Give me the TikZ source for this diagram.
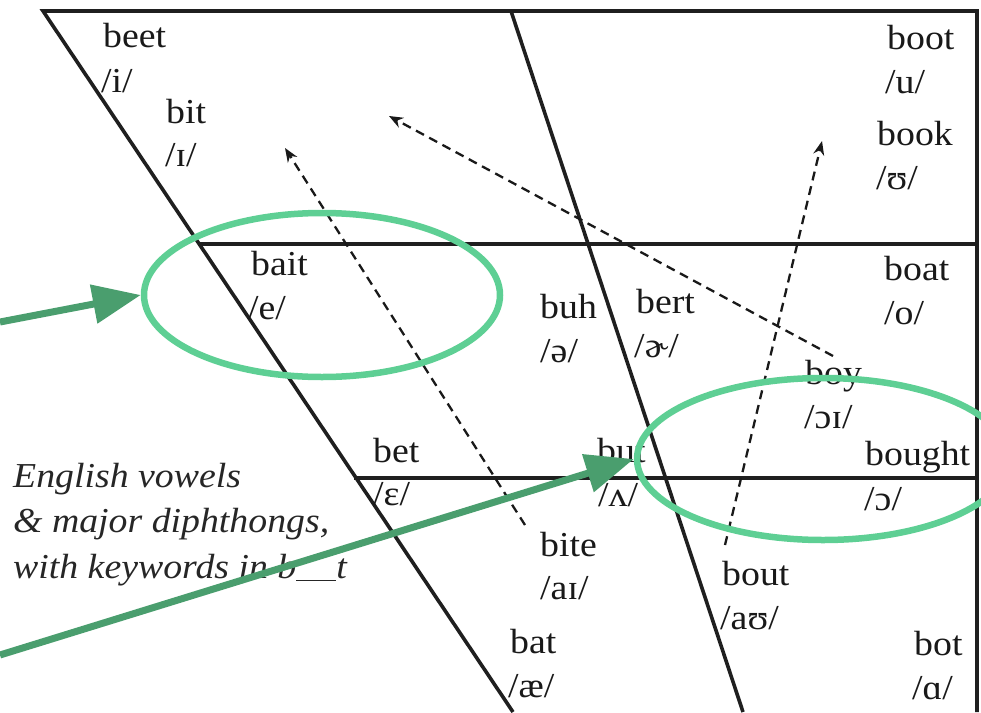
\documentclass[tikz,border=0pt]{standalone}
\usepackage{fontspec}
\setmainfont[FakeStretch=1.08]{Liberation Serif}
\usetikzlibrary{arrows.meta,shapes.geometric}
\definecolor{lgreen}{RGB}{94,207,148}
\definecolor{dgreen}{RGB}{74,158,110}
\begin{document}
\begin{tikzpicture}[x=1pt,y=-1pt,
  lbl/.style={anchor=base west,inner sep=0pt,text=black!90,font=\fontsize{35}{42}\selectfont},
  captext/.style={anchor=base west,inner sep=0pt,text=black!85,font=\fontsize{35}{42}\selectfont\itshape},
  frame/.style={line width=3.6pt,black!88},
  dasharrow/.style={line width=2.3pt,black!90,dash pattern=on 9pt off 6pt,-{Stealth[length=14pt,width=11pt]}},
  ring/.style={ellipse,draw=lgreen,line width=6.5pt,inner sep=0pt},
  garrow/.style={dgreen,line width=7pt,-{Triangle[length=48pt,width=38pt]}}]
\useasboundingbox (0,0) rectangle (981,712);
\clip (0,0) rectangle (981,712);
% frame
\coordinate (tl) at (43,11);
\coordinate (tm) at (511,11);
\coordinate (tr) at (977,11);
\coordinate (bl) at (513,712);
\coordinate (bm) at (743,712);
\coordinate (br) at (977,712);
\coordinate (h1l) at (199,244);
\coordinate (h1r) at (977,244);
\coordinate (h2l) at (354,478);
\coordinate (h2r) at (977,478);
\draw[frame] (bl) -- (tl) -- (tr) -- (br);
\draw[frame] (tm) -- (bm);
\draw[frame] (h1l) -- (h1r);
\draw[frame] (h2l) -- (h2r);
% labels
\node[lbl] (beet) at (103,47) {beet};
\node[lbl] (beetp) at (101,92) {/i/};
\node[lbl] (bit) at (166,123) {bit};
\node[lbl] (bitp) at (165,166) {/ɪ/};
\node[lbl] (boot) at (887,49) {boot};
\node[lbl] (bootp) at (885,93) {/u/};
\node[lbl] (book) at (877,145) {book};
\node[lbl] (bookp) at (876,189) {/ʊ/};
\node[lbl] (bait) at (251,275) {bait};
\node[lbl] (baitp) at (248,319) {/e/};
\node[lbl] (buh) at (540,318) {buh};
\node[lbl] (buhp) at (540,362) {/ə/};
\node[lbl] (bert) at (636,313) {bert};
\node[lbl] (bertp) at (634,357) {/ɚ/};
\node[lbl] (boat) at (884,280) {boat};
\node[lbl] (boatp) at (884,324) {/o/};
\node[lbl] (boy) at (805,384) {boy};
\node[lbl] (boyp) at (804,428) {/ɔɪ/};
\node[lbl] (bought) at (865,465) {bought};
\node[lbl] (boughtp) at (864,510) {/ɔ/};
\node[lbl] (bet) at (373,462) {bet};
\node[lbl] (betp) at (373,505) {/ɛ/};
\node[lbl] (but) at (597,462) {but};
\node[lbl] (butp) at (598,506) {/ʌ/};
\node[lbl] (bite) at (540,556) {bite};
\node[lbl] (bitep) at (540,599) {/aɪ/};
\node[lbl] (bout) at (722,585) {bout};
\node[lbl] (boutp) at (720,629) {/aʊ/};
\node[lbl] (bat) at (510,653) {bat};
\node[lbl] (batp) at (508,697) {/æ/};
\node[lbl] (bot) at (914,655) {bot};
\node[lbl] (botp) at (912,699) {/ɑ/};
% caption
\node[captext] (cap1) at (13,487) {English vowels};
\node[captext] (cap2) at (13,532) {\& major diphthongs,};
\node[captext] (cap3) at (13,578) {with keywords in b\rule[-3pt]{40pt}{1.2pt}t};
% diphthong arrows
\coordinate (d1s) at (525,525);
\coordinate (d1e) at (285,148);
\coordinate (d2s) at (833,356);
\coordinate (d2e) at (389,116);
\coordinate (d3s) at (725,545);
\coordinate (d3e) at (822,141);
\draw[dasharrow] (d1s) -- (d1e);
\draw[dasharrow] (d2s) -- (d2e);
\draw[dasharrow] (d3s) -- (d3e);
% highlights
\node[ring,minimum width=356pt,minimum height=164pt] (e1) at (322,295) {};
\node[ring,minimum width=372pt,minimum height=162pt] (e2) at (823,459) {};
\coordinate (g1) at (0,322);
\coordinate (g2) at (0,655);
\draw[garrow] (g1) -- (e1.west);
\draw[garrow] (g2) -- (e2.west);
\end{tikzpicture}
\end{document}
